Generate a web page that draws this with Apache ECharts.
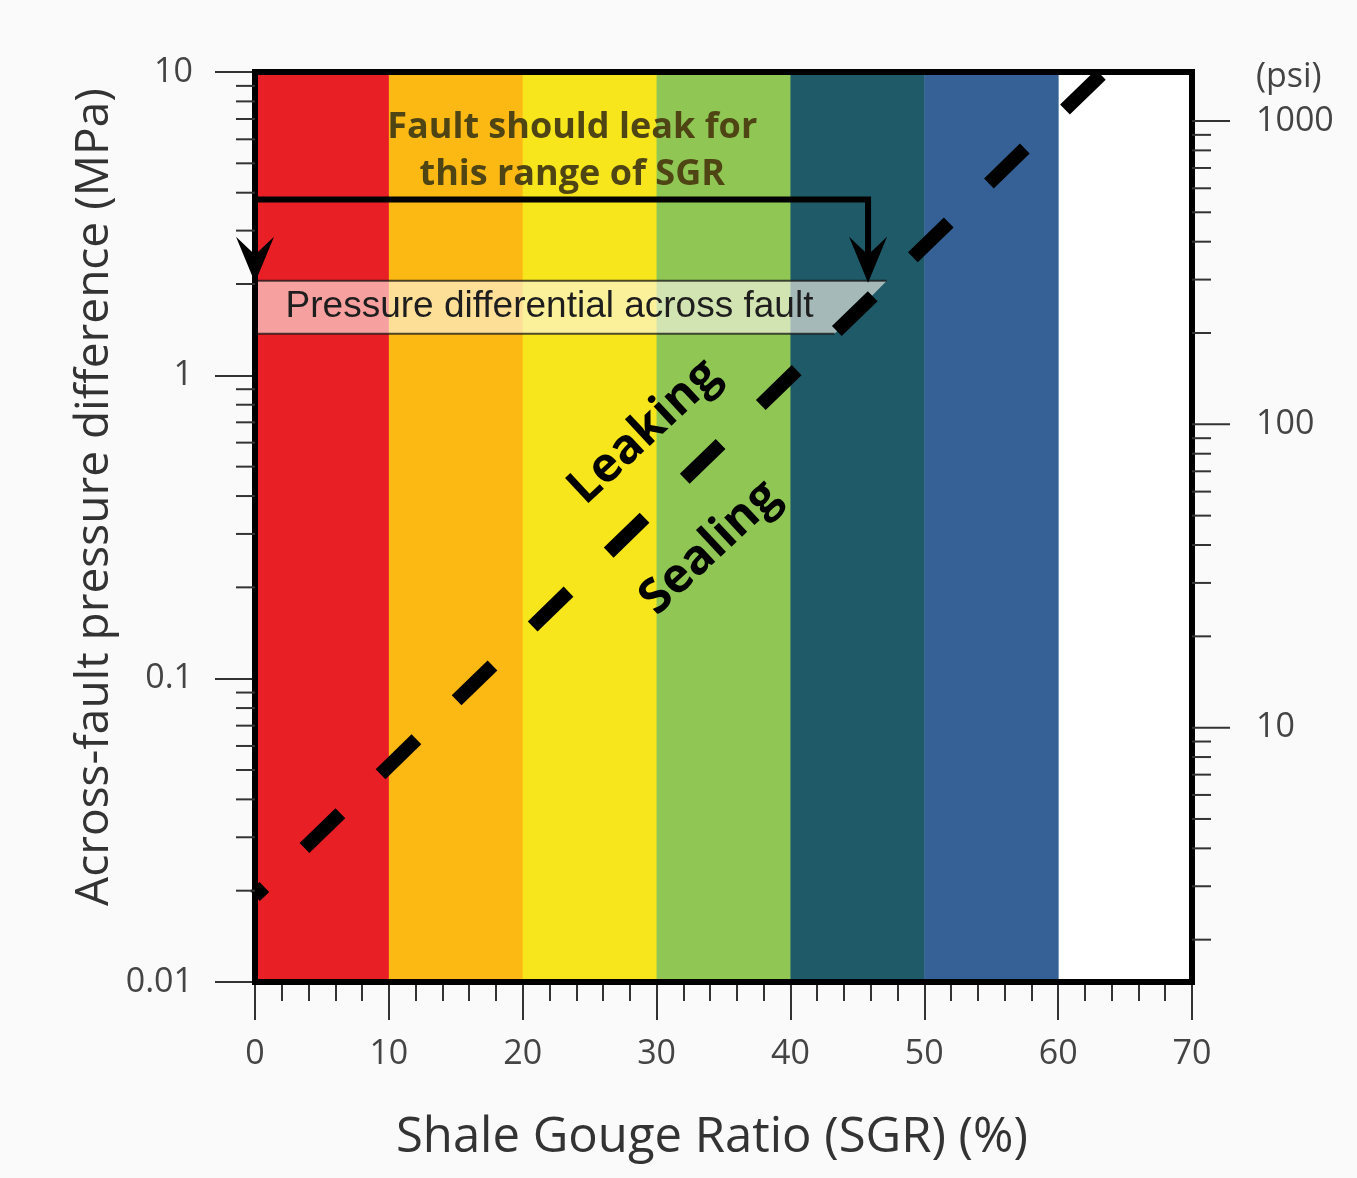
<!DOCTYPE html>
<html><head><meta charset="utf-8">
<script src="https://cdn.jsdelivr.net/npm/echarts@6/dist/echarts.min.js"></script>
<style>html,body{margin:0;padding:0;background:#fafafa}#c{width:1357px;height:1178px}</style>
</head><body><div id="c"></div>
<script>
// ---- data ----
const sgrMin = 0, sgrMax = 70;
const mpaMin = 0.01, mpaMax = 10;
const bandStart = [0, 10, 20, 30, 40, 50];
const bandEnd   = [10, 20, 30, 40, 50, 60];
const psiLabels = [10, 100, 1000];
const minorMultipliers = [2, 3, 4, 5, 6, 7, 8, 9];
const mpaDecades = [0.01, 0.1, 1];
const psiDecades = [1, 10, 100, 1000];
const MPA_TO_PSI = 145.0377;
const thresholdSGR = [0, 63.4];
const thresholdMPa = [0.0192, 10];
const bracketSGR = [0, 45.8];
const bracketTopMPa = 3.8;
const bracketTipMPa = 2.02;
const boxTopSGR = [0, 47.2];
const boxBottomSGR = [0, 43.3];
const boxMPa = [2.05, 1.37];
// annotation anchors (SGR, MPa)
const faultTextAt = [23.7, 5.47];
const pdTextAt = [22.0, 1.68];
const leakingAt = [29.1, 0.65];
const sealingAt = [34.0, 0.27];
const xTitle = 'Shale Gouge Ratio (SGR) (%)';
const yTitle = 'Across-fault pressure difference (MPa)';

// ---- styles ----
const bandColors = ['#e91f26', '#fdb913', '#f7e61c', '#8fc654', '#1e5a68', '#356196'];
const FONT = '"Open Sans", "Noto Sans", sans-serif';
const mpaMinor = [];
mpaDecades.forEach(d => minorMultipliers.forEach(m => mpaMinor.push(d * m)));
const psiMinor = [];
psiDecades.forEach(d => minorMultipliers.forEach(m => { const v = d * m; if (v > mpaMin * MPA_TO_PSI && v < mpaMax * MPA_TO_PSI) psiMinor.push(v); }));

const chart = echarts.init(document.getElementById('c'), null, {renderer: 'canvas'});

const option = {
  backgroundColor: '#fafafa',
  animation: false,
  grid: {left: 255, right: 165, top: 72, bottom: 196, show: true, backgroundColor: '#ffffff', borderWidth: 0},
  xAxis: {
    type: 'value', min: sgrMin, max: sgrMax, interval: 10,
    axisLine: {show: false},
    axisTick: {show: true, length: 38, lineStyle: {color: '#333', width: 2}},
    minorTick: {show: true, splitNumber: 5, length: 19, lineStyle: {color: '#333', width: 2}},
    splitLine: {show: false},
    axisLabel: {fontSize: 34, color: '#444', margin: 55, fontFamily: FONT}
  },
  yAxis: [{
    type: 'log', logBase: 10, min: mpaMin, max: mpaMax,
    axisLine: {show: false},
    axisTick: {show: true, length: 40, lineStyle: {color: '#333', width: 2}},
    splitLine: {show: false},
    axisLabel: {fontSize: 34, color: '#444', margin: 62, fontFamily: FONT}
  }, {
    type: 'log', logBase: 10, min: mpaMin * MPA_TO_PSI, max: mpaMax * MPA_TO_PSI, position: 'right',
    axisLine: {show: false}, axisTick: {show: false}, splitLine: {show: false},
    axisLabel: {fontSize: 34, color: '#444', margin: 64, fontFamily: FONT,
      formatter: v => psiLabels.some(p => Math.abs(p - v) / p < 1e-6) ? String(Math.round(v)) : ''}
  }],
  graphic: [{
    type: 'text', left: 1256, top: 60,
    style: {text: '(psi)', fontSize: 34, fill: '#444', fontFamily: FONT}
  }, {
    type: 'text', x: 712, y: 1138,
    style: {text: xTitle, fontSize: 49, fill: '#333', fontFamily: FONT, align: 'center', verticalAlign: 'middle'}
  }, {
    type: 'text', x: 95, y: 497, rotation: Math.PI / 2,
    style: {text: yTitle, fontSize: 46, fill: '#333', fontFamily: FONT, align: 'center', verticalAlign: 'middle'}
  }],
  series: [
    { // colour bands
      type: 'custom', z: 1, xAxisIndex: 0, yAxisIndex: 0,
      data: bandStart.map((s, i) => [s, bandEnd[i]]),
      encode: {x: [0, 1]},
      renderItem: (params, api) => {
        const p0 = api.coord([api.value(0), mpaMax]);
        const p1 = api.coord([api.value(1), mpaMin]);
        return {type: 'rect', shape: {x: p0[0], y: p0[1], width: p1[0] - p0[0] + 0.5, height: p1[1] - p0[1]},
          style: {fill: bandColors[params.dataIndex]}};
      }
    },
    { // pressure differential box
      type: 'custom', z: 3, xAxisIndex: 0, yAxisIndex: 0, data: [[0, 1]], encode: {x: 0},
      renderItem: (params, api) => {
        const a = api.coord([boxTopSGR[0], boxMPa[0]]);
        const b = api.coord([boxTopSGR[1], boxMPa[0]]);
        const c = api.coord([boxBottomSGR[1], boxMPa[1]]);
        const d = api.coord([boxBottomSGR[0], boxMPa[1]]);
        const t = api.coord(pdTextAt);
        return {type: 'group', children: [
          {type: 'polygon', shape: {points: [[a[0] + 3, a[1]], b, c, [d[0] + 3, d[1]]]},
            style: {fill: 'rgba(255,248,240,0.6)'}},
          {type: 'line', shape: {x1: a[0] + 3, y1: a[1], x2: b[0], y2: b[1]}, style: {stroke: 'rgba(20,20,20,0.75)', lineWidth: 2}},
          {type: 'line', shape: {x1: d[0] + 3, y1: d[1], x2: c[0], y2: c[1]}, style: {stroke: 'rgba(20,20,20,0.75)', lineWidth: 2}},
          {type: 'text', x: t[0], y: t[1], style: {text: 'Pressure differential across fault', fontSize: 37,
            fontFamily: '"Liberation Sans", Arial, sans-serif', fill: '#1e1e1e', align: 'center', verticalAlign: 'middle'}}
        ]};
      }
    },
    { // leak / seal threshold
      type: 'line', z: 4, xAxisIndex: 0, yAxisIndex: 0, symbol: 'none', clip: true,
      data: thresholdSGR.map((x, i) => [x, thresholdMPa[i]]),
      lineStyle: {color: '#000', width: 14, type: [50, 56], dashOffset: 37, cap: 'butt'}
    },
    { // bracket arrows + annotations
      type: 'custom', z: 5, xAxisIndex: 0, yAxisIndex: 0, data: [[0, 1]], encode: {x: 0},
      renderItem: (params, api) => {
        const tl = api.coord([bracketSGR[0], bracketTopMPa]);
        const tr = api.coord([bracketSGR[1], bracketTopMPa]);
        const bl = api.coord([bracketSGR[0], bracketTipMPa]);
        const br = api.coord([bracketSGR[1], bracketTipMPa]);
        const head = p => ({type: 'polygon', shape: {points: [[p[0], p[1]], [p[0] - 19, p[1] - 46], [p[0], p[1] - 28], [p[0] + 19, p[1] - 46]]},
          style: {fill: '#000'}});
        const ft = api.coord(faultTextAt), lk = api.coord(leakingAt), sl = api.coord(sealingAt);
        const ang = 43 * Math.PI / 180;
        return {type: 'group', children: [
          {type: 'polyline', shape: {points: [[bl[0], bl[1] - 20], tl, tr, [br[0], br[1] - 20]]},
            style: {stroke: '#000', lineWidth: 6, fill: null, lineJoin: 'miter'}},
          head(bl), head(br),
          {type: 'text', x: ft[0], y: ft[1], style: {text: 'Fault should leak for\nthis range of SGR', fontSize: 36, fontWeight: 'bold',
            fontFamily: FONT, fill: '#4f4414', align: 'center', verticalAlign: 'middle', lineHeight: 47}},
          {type: 'text', x: lk[0], y: lk[1], rotation: ang, style: {text: 'Leaking', fontSize: 48, fontWeight: 'bold',
            fontFamily: FONT, fill: '#000', align: 'center', verticalAlign: 'middle'}},
          {type: 'text', x: sl[0], y: sl[1], rotation: ang, style: {text: 'Sealing', fontSize: 48, fontWeight: 'bold',
            fontFamily: FONT, fill: '#000', align: 'center', verticalAlign: 'middle'}}
        ]};
      }
    },
    { // frame + left minor ticks
      type: 'custom', z: 10, xAxisIndex: 0, yAxisIndex: 0, data: [[0, 1]], encode: {x: 0}, clip: false,
      renderItem: (params, api) => {
        const tl = api.coord([sgrMin, mpaMax]);
        const br = api.coord([sgrMax, mpaMin]);
        const kids = [{type: 'rect', shape: {x: tl[0], y: tl[1], width: br[0] - tl[0], height: br[1] - tl[1]},
          style: {fill: null, stroke: '#000', lineWidth: 6}}];
        mpaMinor.forEach(v => {
          const p = api.coord([sgrMin, v]);
          kids.push({type: 'line', shape: {x1: p[0] - 19, y1: p[1], x2: p[0], y2: p[1]}, style: {stroke: '#333', lineWidth: 2}});
        });
        return {type: 'group', children: kids};
      }
    },
    { // right psi ticks
      type: 'custom', z: 10, xAxisIndex: 0, yAxisIndex: 1, data: [[0, 10]], encode: {x: 0}, clip: false,
      renderItem: (params, api) => {
        const kids = [];
        psiMinor.forEach(v => {
          const p = api.coord([sgrMax, v]);
          kids.push({type: 'line', shape: {x1: p[0], y1: p[1], x2: p[0] + 19, y2: p[1]}, style: {stroke: '#333', lineWidth: 2}});
        });
        psiLabels.forEach(v => {
          const p = api.coord([sgrMax, v]);
          kids.push({type: 'line', shape: {x1: p[0], y1: p[1], x2: p[0] + 38, y2: p[1]}, style: {stroke: '#333', lineWidth: 2}});
        });
        return {type: 'group', children: kids};
      }
    }
  ]
};
chart.setOption(option);
</script>
</body></html>
